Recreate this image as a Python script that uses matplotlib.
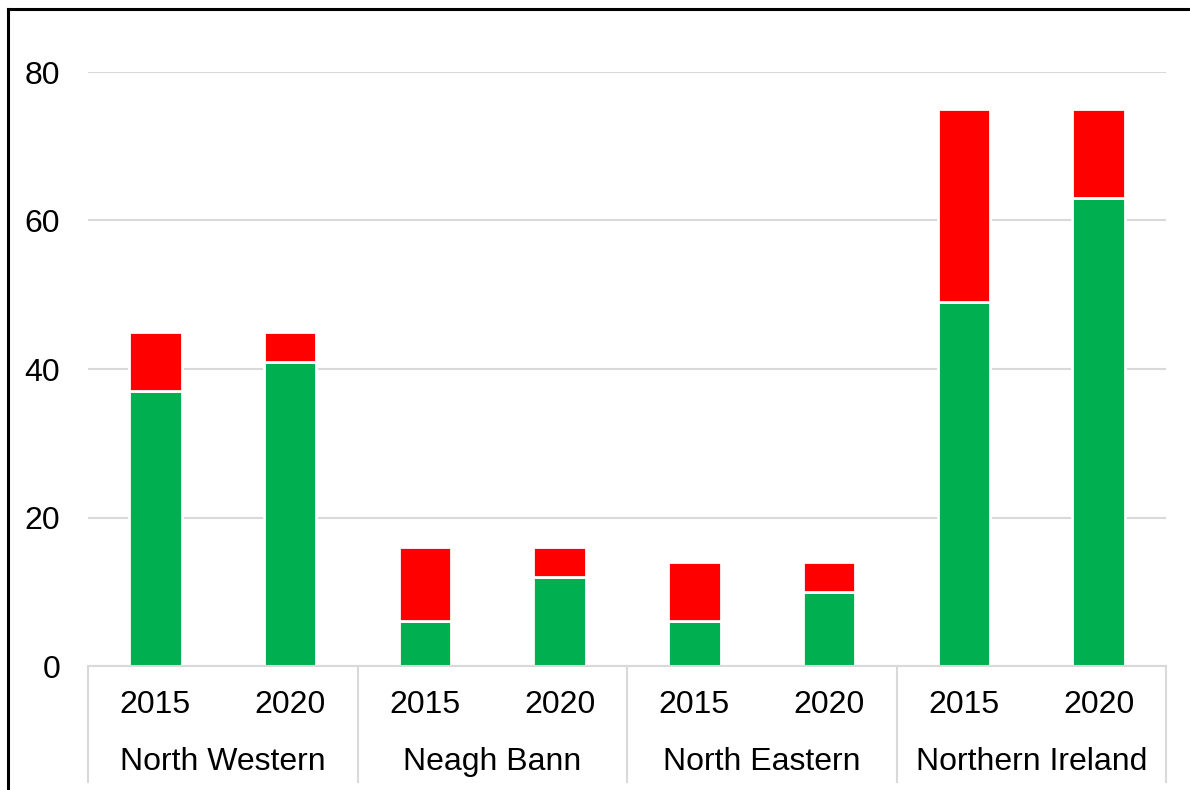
import matplotlib.pyplot as plt
import numpy as np
from matplotlib.lines import Line2D
import matplotlib.transforms as mtransforms

plt.rcParams['font.family'] = ['Liberation Sans', 'DejaVu Sans']

regions = ["North Western", "Neagh Bann", "North Eastern", "Northern Ireland"]
years = ["2015", "2020"]
green_vals = [37, 41, 6, 12, 6, 10, 49, 63]
red_vals = [8, 4, 10, 4, 8, 4, 26, 12]

fig = plt.figure(figsize=(11.9, 7.9), dpi=100)
ax = fig.add_axes([88 / 1190, 1 - 666 / 790, (1166 - 88) / 1190, (666 - 72) / 790])

x = np.arange(len(green_vals))
ax.bar(x, green_vals, width=0.39, color="#00B050", edgecolor="white", linewidth=2)
ax.bar(x, red_vals, bottom=green_vals, width=0.39, color="#FF0000",
       edgecolor="white", linewidth=2)

ax.set_xlim(-0.5, len(x) - 0.5)
ax.set_ylim(0, 80)
ax.set_yticks([0, 20, 40, 60, 80])
ax.yaxis.grid(True, color="#d9d9d9", linewidth=1.5)
ax.set_axisbelow(True)
for s in ["top", "right", "left"]:
    ax.spines[s].set_visible(False)
ax.spines["bottom"].set_color("#d9d9d9")
ax.spines["bottom"].set_linewidth(1.5)
ax.tick_params(axis="y", length=0, labelsize=23, pad=20)
ax.tick_params(axis="x", length=0, labelbottom=False)

# two-level category axis
trans = mtransforms.blended_transform_factory(ax.transData, ax.transAxes)
for i in range(len(x)):
    ax.text(i, -0.066, years[i % 2], transform=trans, ha="center", va="center", fontsize=23)
for j, name in enumerate(regions):
    ax.text(2 * j + 0.5, -0.162, name, transform=trans, ha="center", va="center", fontsize=23)
for k in range(len(regions) + 1):
    ax.plot([2 * k - 0.5, 2 * k - 0.5], [0, -0.195], transform=trans, color="#d9d9d9",
            linewidth=1.5, clip_on=False)

# outer frame (left and top visible)
fig.add_artist(Line2D([8 / 1190, 8 / 1190], [0, 1 - 9 / 790], color="black", linewidth=2.2,
                      transform=fig.transFigure))
fig.add_artist(Line2D([8 / 1190, 1.0], [1 - 9 / 790, 1 - 9 / 790], color="black", linewidth=2.2,
                      transform=fig.transFigure))

fig.savefig("out.png", dpi=100)
